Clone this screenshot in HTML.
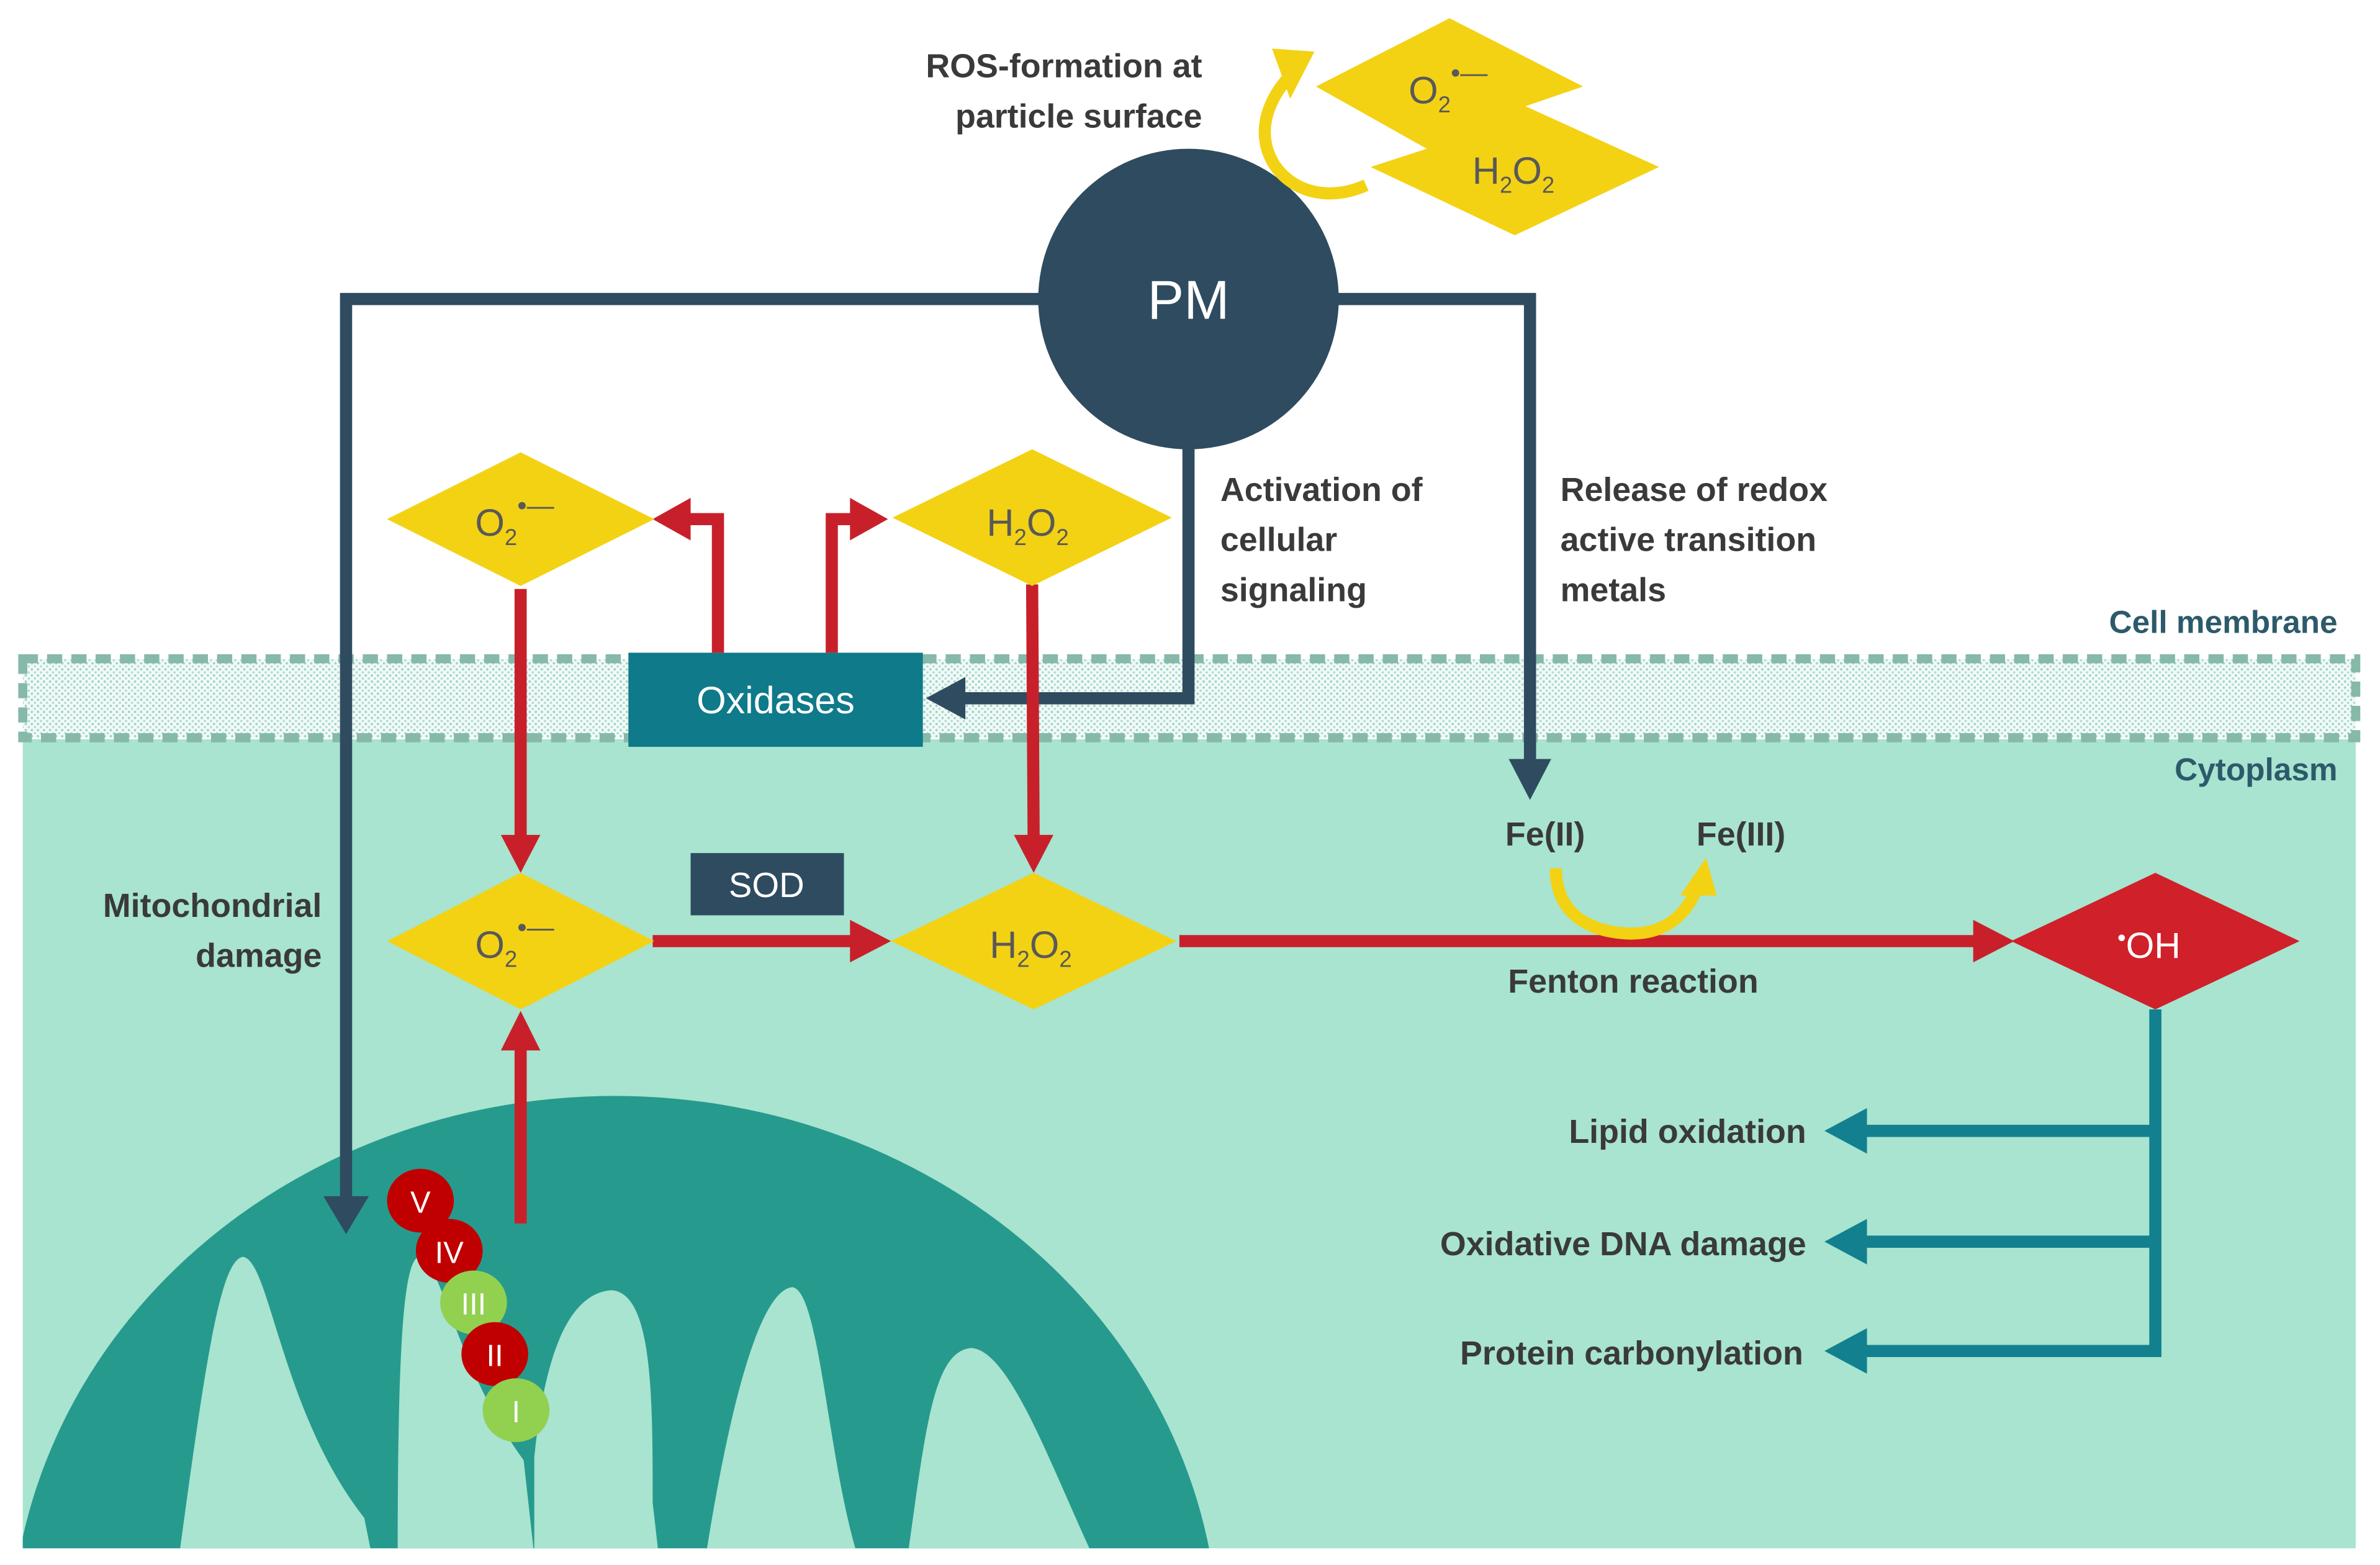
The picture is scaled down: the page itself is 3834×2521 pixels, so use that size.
<!DOCTYPE html>
<html><head><meta charset="utf-8"><style>
html,body{margin:0;padding:0;background:#fff;width:3834px;height:2521px;overflow:hidden;}
svg{display:block;}
text{font-family:"Liberation Sans",sans-serif;}
</style></head><body>
<svg width="3834" height="2521" viewBox="0 0 1568 1031" preserveAspectRatio="none" xmlns="http://www.w3.org/2000/svg">
<defs>
<pattern id="dots" width="4" height="4" patternUnits="userSpaceOnUse">
<rect width="4" height="4" fill="#f2faf8"/><circle cx="1" cy="1" r="0.8" fill="#9fd3c6"/><circle cx="3" cy="3" r="0.8" fill="#b5ddd3"/>
</pattern>
<clipPath id="cyto"><rect x="15" y="487" width="1537" height="533"/></clipPath>
</defs>
<rect width="1568" height="1031" fill="#fff"/>
<rect x="15" y="487" width="1537" height="533" fill="#a8e4cf"/>
<rect x="15" y="434" width="1537" height="52" fill="url(#dots)" stroke="#86b9aa" stroke-width="6" stroke-dasharray="10 6"/>
<g clip-path="url(#cyto)">
<ellipse cx="405" cy="1085" rx="398" ry="363" fill="#279a8e"/>
<path d="M118,1025 C135,900 145,830 160,828 C178,830 185,930 240,1000 L245,1025 Z" fill="#a8e4cf"/>
<path d="M262,1025 C262,900 265,830 276,828 C292,832 300,900 345,962 L352,1025 Z" fill="#a8e4cf"/>
<path d="M352,1025 L352,960 C358,900 372,852 403,850 C430,852 430,920 430,990 L434,1025 Z" fill="#a8e4cf"/>
<path d="M465,1025 C480,930 500,850 522,848 C540,850 545,960 565,1025 Z" fill="#a8e4cf"/>
<path d="M598,1025 C610,940 615,890 640,888 C665,890 690,960 720,1025 Z" fill="#a8e4cf"/>
</g>
<g font-size="20" fill="#fff" text-anchor="middle">
<ellipse cx="277" cy="791" rx="22" ry="21" fill="#c00000"/><text x="277" y="799">V</text>
<ellipse cx="296" cy="824" rx="22" ry="21" fill="#c00000"/><text x="296" y="832">IV</text>
<ellipse cx="312" cy="858" rx="22" ry="21" fill="#92d050"/><text x="312" y="866">III</text>
<ellipse cx="326" cy="892" rx="22" ry="21" fill="#c00000"/><text x="326" y="900">II</text>
<ellipse cx="340" cy="929" rx="22" ry="21" fill="#92d050"/><text x="340" y="937">I</text>
</g>
<g stroke="#2f4b60" stroke-width="8" fill="none">
<polyline points="700,197 228,197 228,790"/>
<polyline points="870,197 1008,197 1008,505"/>
<polyline points="783,290 783,460 632,460"/>
</g>
<g fill="#2f4b60">
<polygon points="213,788 243,788 228,813"/>
<polygon points="994,500 1022,500 1008,527"/>
<polygon points="636,446 636,474 610,460"/>
</g>
<circle cx="783" cy="197" r="99" fill="#2f4b60"/>
<text x="783" y="210" font-size="36" fill="#fff" text-anchor="middle">PM</text>
<polygon points="955,12 1043,57 1005,70 1093,110 998,155 903,110 940,98 867,57" fill="#f3d214"/>
<text x="928" y="68" font-size="25" fill="#595959">O<tspan font-size="15" dy="6">2</tspan><tspan font-size="18" dy="-20">•—</tspan></text>
<text x="970" y="121" font-size="25" fill="#595959">H<tspan font-size="15" dy="6">2</tspan><tspan dy="-6">O</tspan><tspan font-size="15" dy="6">2</tspan></text>
<path d="M900,122 C860,140 825,110 835,75 C838,65 843,58 848,52" stroke="#f3d214" stroke-width="8" fill="none"/>
<polygon points="838,32 866,34 850,65" fill="#f3d214"/>
<rect x="414" y="430" width="194" height="62" fill="#0e7a8a"/>
<text x="511" y="470" font-size="25" fill="#fff" text-anchor="middle">Oxidases</text>
<g stroke="#c8202a" stroke-width="8" fill="none">
<polyline points="473,430 473,342 450,342"/>
<polyline points="548,430 548,342 565,342"/>
<line x1="343" y1="388" x2="343" y2="555"/>
<line x1="680" y1="385" x2="681" y2="555"/>
<line x1="430" y1="620" x2="565" y2="620"/>
<line x1="777" y1="620" x2="1305" y2="620"/>
<line x1="343" y1="806" x2="343" y2="688"/>
</g>
<g fill="#c8202a">
<polygon points="455,328 455,356 430,342"/>
<polygon points="560,328 560,356 585,342"/>
<polygon points="330,550 356,550 343,575"/>
<polygon points="668,550 694,550 681,575"/>
<polygon points="560,606 560,634 587,620"/>
<polygon points="1300,606 1300,634 1327,620"/>
<polygon points="330,692 356,692 343,666"/>
</g>
<polygon points="343,298 431,342 343,386 255,342" fill="#f3d214"/>
<polygon points="680,296 772,341 680,386 588,341" fill="#f3d214"/>
<polygon points="343,575 431,620 343,665 255,620" fill="#f3d214"/>
<polygon points="681,575 775,620 681,665 587,620" fill="#f3d214"/>
<polygon points="1420,575 1515,620 1420,665 1325,620" fill="#d0202a"/>
<g font-size="25" fill="#595959">
<text x="313" y="353">O<tspan font-size="15" dy="6">2</tspan><tspan font-size="18" dy="-20">•—</tspan></text>
<text x="650" y="353">H<tspan font-size="15" dy="6">2</tspan><tspan dy="-6">O</tspan><tspan font-size="15" dy="6">2</tspan></text>
<text x="313" y="631">O<tspan font-size="15" dy="6">2</tspan><tspan font-size="18" dy="-20">•—</tspan></text>
<text x="652" y="631">H<tspan font-size="15" dy="6">2</tspan><tspan dy="-6">O</tspan><tspan font-size="15" dy="6">2</tspan></text>
</g>
<text x="1395" y="631" font-size="24" fill="#fff"><tspan font-size="16" dy="-8">•</tspan><tspan dy="8">OH</tspan></text>
<rect x="455" y="562" width="101" height="41" fill="#2f4b60"/>
<text x="505" y="591" font-size="23" fill="#fff" text-anchor="middle">SOD</text>
<path d="M1025,572 C1025,610 1060,615 1075,615 C1095,615 1110,605 1118,585" stroke="#f3d214" stroke-width="8" fill="none"/>
<polygon points="1107,590 1131,590 1124,565" fill="#f3d214"/>
<g stroke="#12808f" stroke-width="8" fill="none">
<polyline points="1420,665 1420,890 1225,890"/>
<line x1="1420" y1="745" x2="1225" y2="745"/>
<line x1="1420" y1="818" x2="1225" y2="818"/>
</g>
<g fill="#12808f">
<polygon points="1230,730 1230,760 1202,745"/>
<polygon points="1230,803 1230,833 1202,818"/>
<polygon points="1230,875 1230,905 1202,890"/>
</g>
<g font-size="22" font-weight="bold" fill="#3a3a3a">
<text x="792" y="51" text-anchor="end">ROS-formation at</text>
<text x="792" y="84" text-anchor="end">particle surface</text>
<text x="804" y="330">Activation of</text>
<text x="804" y="363">cellular</text>
<text x="804" y="396">signaling</text>
<text x="1028" y="330">Release of redox</text>
<text x="1028" y="363">active transition</text>
<text x="1028" y="396">metals</text>
<text x="212" y="604" text-anchor="end">Mitochondrial</text>
<text x="212" y="637" text-anchor="end">damage</text>
<text x="1018" y="557" text-anchor="middle">Fe(II)</text>
<text x="1147" y="557" text-anchor="middle">Fe(III)</text>
<text x="1076" y="654" text-anchor="middle">Fenton reaction</text>
<text x="1190" y="753" text-anchor="end">Lipid oxidation</text>
<text x="1190" y="827" text-anchor="end">Oxidative DNA damage</text>
<text x="1188" y="899" text-anchor="end">Protein carbonylation</text>
</g>
<g font-size="21" font-weight="bold" fill="#2d5a6b" text-anchor="end">
<text x="1540" y="417">Cell membrane</text>
<text x="1540" y="514">Cytoplasm</text>
</g>
</svg>
</body></html>
